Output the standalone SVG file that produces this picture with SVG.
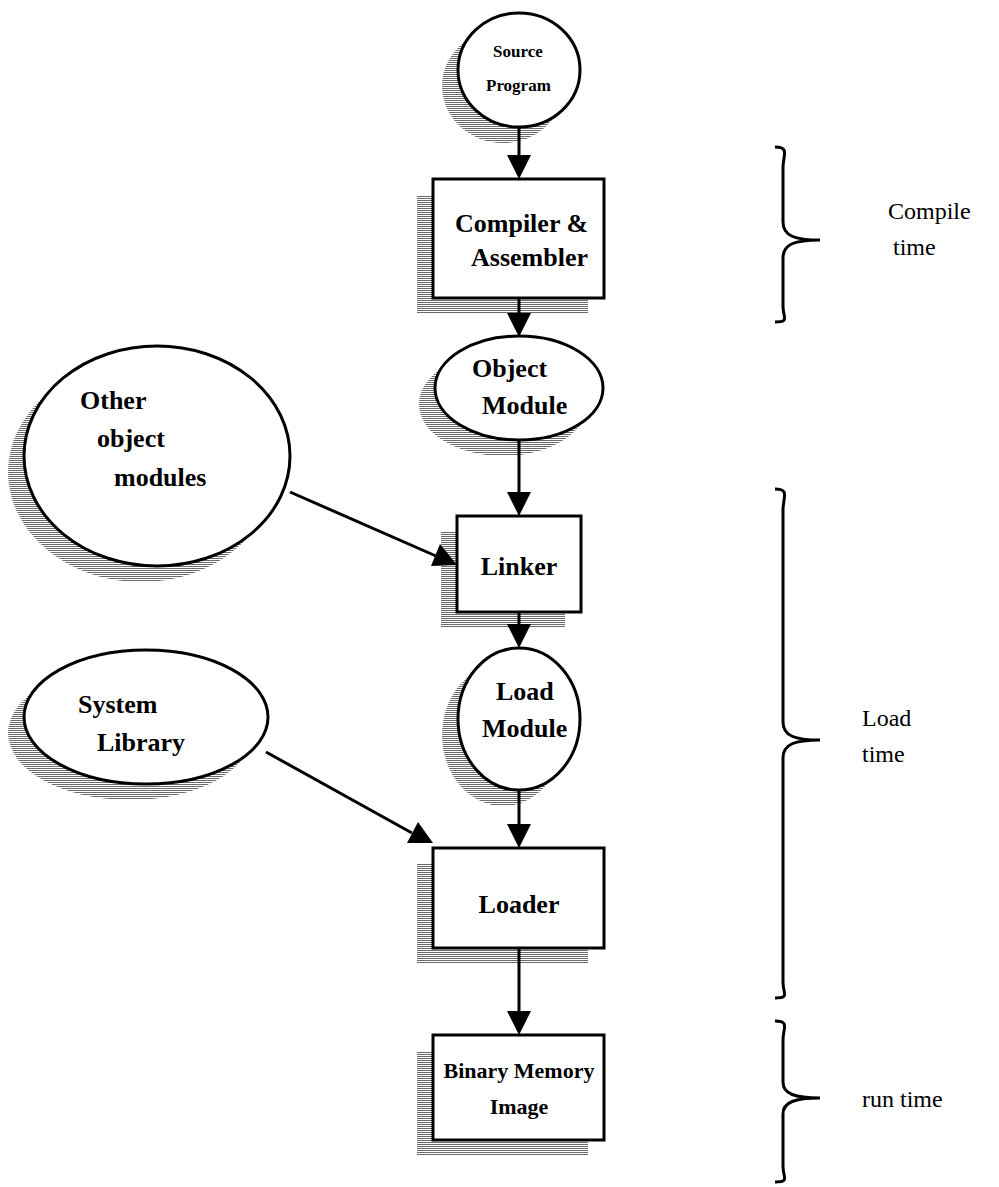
<svg xmlns="http://www.w3.org/2000/svg" width="999" height="1187" viewBox="0 0 999 1187">
  <defs>
    <!-- horizontal-line hatching used for drop shadows -->
    <pattern id="hatch" width="4" height="2" patternUnits="userSpaceOnUse">
      <rect x="0" y="0" width="4" height="1" fill="#6a6a6a"/>
    </pattern>
  </defs>
  <style>
    .shape { fill: #fff; stroke: #000; stroke-width: 3; }
    .shadow { fill: url(#hatch); stroke: none; }
    .edge { stroke: #000; stroke-width: 3; fill: none; }
    .head { fill: #000; stroke: none; }
    .brace { stroke: #000; stroke-width: 3; fill: none; }
    .lbl { font-family: "Liberation Serif", "Times New Roman", serif; font-weight: bold; fill: #000; }
    .note { font-family: "Liberation Serif", "Times New Roman", serif; font-size: 24px; fill: #000; }
  </style>
  <rect width="999" height="1187" fill="#fff"/>

  <g id="source-program">
    <ellipse class="shadow" cx="503" cy="86" rx="61" ry="57"/>
    <ellipse class="shape" cx="519" cy="70" rx="61" ry="57"/>
    <text class="lbl" font-size="17" x="493" y="57">Source</text>
    <text class="lbl" font-size="17" x="486" y="91">Program</text>
  </g>

  <g id="compiler">
    <rect class="shadow" x="417" y="195" width="171" height="119"/>
    <rect class="shape" x="433" y="179" width="171" height="119"/>
    <text class="lbl" font-size="26" x="455" y="232">Compiler &amp;</text>
    <text class="lbl" font-size="26" x="471" y="266">Assembler</text>
  </g>

  <g id="object-module">
    <ellipse class="shadow" cx="503" cy="404" rx="84" ry="52"/>
    <ellipse class="shape" cx="519" cy="388" rx="84" ry="52"/>
    <text class="lbl" font-size="26" x="472" y="377">Object</text>
    <text class="lbl" font-size="26" x="482" y="414">Module</text>
  </g>

  <g id="other-modules">
    <ellipse class="shadow" cx="141" cy="472" rx="133" ry="110"/>
    <ellipse class="shape" cx="157" cy="456" rx="133" ry="110"/>
    <text class="lbl" font-size="26" x="80" y="409">Other</text>
    <text class="lbl" font-size="26" x="97" y="447">object</text>
    <text class="lbl" font-size="26" x="114" y="486">modules</text>
  </g>

  <g id="linker">
    <rect class="shadow" x="441" y="532" width="124" height="96"/>
    <rect class="shape" x="457" y="516" width="124" height="96"/>
    <text class="lbl" font-size="26" x="519" y="575" text-anchor="middle">Linker</text>
  </g>

  <g id="load-module">
    <ellipse class="shadow" cx="503" cy="735" rx="61" ry="71"/>
    <ellipse class="shape" cx="519" cy="719" rx="61" ry="71"/>
    <text class="lbl" font-size="26" x="496" y="700">Load</text>
    <text class="lbl" font-size="26" x="482" y="737">Module</text>
  </g>

  <g id="system-library">
    <ellipse class="shadow" cx="130" cy="733" rx="122" ry="67"/>
    <ellipse class="shape" cx="146" cy="717" rx="122" ry="67"/>
    <text class="lbl" font-size="26" x="78" y="713">System</text>
    <text class="lbl" font-size="26" x="97" y="751">Library</text>
  </g>

  <g id="loader">
    <rect class="shadow" x="417" y="864" width="171" height="100"/>
    <rect class="shape" x="433" y="848" width="171" height="100"/>
    <text class="lbl" font-size="26" x="519" y="913" text-anchor="middle">Loader</text>
  </g>

  <g id="binary-image">
    <rect class="shadow" x="417" y="1051" width="171" height="105"/>
    <rect class="shape" x="433" y="1035" width="171" height="105"/>
    <text class="lbl" font-size="22" x="519" y="1078" text-anchor="middle">Binary Memory</text>
    <text class="lbl" font-size="22" x="519" y="1114" text-anchor="middle">Image</text>
  </g>

  <g id="connectors">
    <line class="edge" x1="519" y1="127" x2="519" y2="156"/>
    <path class="head" d="M507,155 L531,155 L519,179 Z"/>
    <line class="edge" x1="519" y1="298" x2="519" y2="315"/>
    <path class="head" d="M507,313 L531,313 L519,337 Z"/>
    <line class="edge" x1="519" y1="440" x2="519" y2="494"/>
    <path class="head" d="M507,492 L531,492 L519,516 Z"/>
    <line class="edge" x1="519" y1="612" x2="519" y2="626"/>
    <path class="head" d="M507,624 L531,624 L519,648 Z"/>
    <line class="edge" x1="519" y1="790" x2="519" y2="826"/>
    <path class="head" d="M507,824 L531,824 L519,848 Z"/>
    <line class="edge" x1="519" y1="948" x2="519" y2="1013"/>
    <path class="head" d="M507,1011 L531,1011 L519,1035 Z"/>
    <line class="edge" x1="290" y1="492" x2="436" y2="556"/>
    <path class="head" d="M457,565 L431,566 L440,544 Z"/>
    <line class="edge" x1="266" y1="752" x2="412" y2="833"/>
    <path class="head" d="M433,843 L407,843 L418,822 Z"/>
  </g>

  <g id="braces">
    <path class="brace" d="M775,147 C790,147 783,155 783,168 L783,222 C783,236 795,240 820,240 C795,240 783,244 783,258 L783,306 C783,318 790,322 775,322"/>
    <path class="brace" d="M775,489 C790,489 783,497 783,510 L783,722 C783,736 795,740 820,740 C795,740 783,744 783,758 L783,982 C783,994 790,998 775,998"/>
    <path class="brace" d="M775,1021 C790,1021 783,1028 783,1040 L783,1082 C783,1094 795,1098 820,1098 C795,1098 783,1102 783,1114 L783,1166 C783,1178 790,1182 775,1182"/>
  </g>

  <g id="labels">
    <text class="note" x="888" y="219">Compile</text>
    <text class="note" x="893" y="255">time</text>
    <text class="note" x="862" y="726">Load</text>
    <text class="note" x="862" y="762">time</text>
    <text class="note" x="862" y="1107">run time</text>
  </g>
</svg>
